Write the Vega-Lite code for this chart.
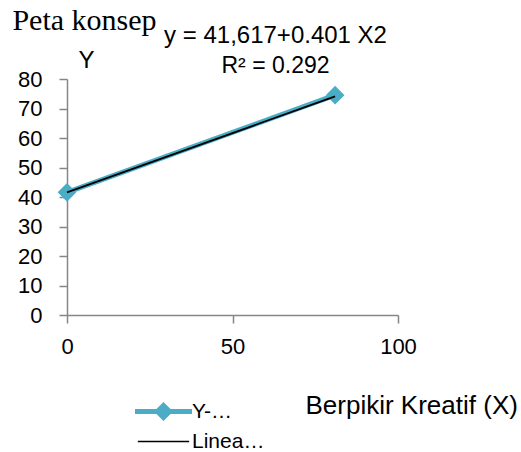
{
  "$schema": "https://vega.github.io/schema/vega-lite/v6.json",
  "width": 331,
  "height": 236,
  "autosize": {"type": "none"},
  "padding": {"left": 67, "top": 79, "right": 123, "bottom": 137},
  "background": "white",
  "datasets": {
    "points": [
      {"x": 0, "y": 41.6, "series": "Y-…"},
      {"x": 81, "y": 74.5, "series": "Y-…"},
      {"x": 0, "y": 41.6, "series": "Linea…"},
      {"x": 81, "y": 74.1, "series": "Linea…"}
    ],
    "notes": [
      {"id": "title", "note": "Peta konsep"},
      {"id": "eq", "note": "y = 41,617+0.401 X2"},
      {"id": "r2", "note": "R² = 0.292"}
    ]
  },
  "data": {"name": "points"},
  "layer": [
    {
      "transform": [{"filter": "datum.series === 'Y-…'"}],
      "mark": {"type": "line", "strokeWidth": 5},
      "encoding": {
        "x": {"field": "x", "type": "quantitative", "scale": {"domain": [0, 100], "nice": false}},
        "y": {"field": "y", "type": "quantitative", "scale": {"domain": [0, 80], "nice": false}},
        "color": {
          "field": "series",
          "type": "nominal",
          "scale": {"domain": ["Y-…", "Linea…"], "range": ["#4BACC6", "#000000"]},
          "legend": {
            "orient": "none",
            "legendX": 86,
            "legendY": 322,
            "title": null,
            "padding": 0,
            "labelFont": "Liberation Sans",
            "labelFontSize": 21,
            "labelColor": "black",
            "symbolSize": 203,
            "labelOffset": 18,
            "rowPadding": 2,
            "encode": {
              "symbols": {
                "update": {
                  "shape": {"signal": "datum.value === 'Y-…' ? 'M-4,0L4,0M-0.85,0L0,-0.85L0.85,0L0,0.85Z' : 'M-3.6,0L3.6,0'"},
                  "strokeWidth": {"signal": "datum.value === 'Y-…' ? 5 : 1.5"},
                  "fill": {"signal": "datum.value === 'Y-…' ? '#4BACC6' : 'transparent'"},
                  "stroke": {"signal": "datum.value === 'Y-…' ? '#4BACC6' : '#000000'"},
                  "opacity": {"value": 1}
                }
              }
            }
          }
        }
      }
    },
    {
      "transform": [{"filter": "datum.series === 'Y-…'"}],
      "mark": {"type": "point", "shape": "diamond", "filled": true, "size": 350, "color": "#4BACC6", "opacity": 1},
      "encoding": {
        "x": {"field": "x", "type": "quantitative"},
        "y": {"field": "y", "type": "quantitative"}
      }
    },
    {
      "transform": [{"filter": "datum.series === 'Linea…'"}],
      "mark": {"type": "line", "strokeWidth": 1.8},
      "encoding": {
        "x": {"field": "x", "type": "quantitative"},
        "y": {"field": "y", "type": "quantitative"},
        "color": {"field": "series", "type": "nominal"}
      }
    },
    {
      "data": {"name": "notes"},
      "transform": [{"filter": "datum.id === 'title'"}],
      "mark": {
        "type": "text",
        "font": "Liberation Serif",
        "fontSize": 30,
        "align": "left",
        "baseline": "alphabetic",
        "color": "black"
      },
      "encoding": {
        "x": {"datum": -16.5, "type": "quantitative"},
        "y": {"datum": 96.6, "type": "quantitative"},
        "text": {"field": "note", "type": "nominal"}
      }
    },
    {
      "data": {"name": "notes"},
      "transform": [{"filter": "datum.id === 'eq'"}],
      "mark": {
        "type": "text",
        "font": "Liberation Sans",
        "fontSize": 24,
        "align": "center",
        "baseline": "alphabetic",
        "color": "black"
      },
      "encoding": {
        "x": {"datum": 63, "type": "quantitative"},
        "y": {"datum": 92.2, "type": "quantitative"},
        "text": {"field": "note", "type": "nominal"}
      }
    },
    {
      "data": {"name": "notes"},
      "transform": [{"filter": "datum.id === 'r2'"}],
      "mark": {
        "type": "text",
        "font": "Liberation Sans",
        "fontSize": 23,
        "align": "center",
        "baseline": "alphabetic",
        "color": "black"
      },
      "encoding": {
        "x": {
          "datum": 63,
          "type": "quantitative",
          "axis": {
            "values": [0, 50, 100],
            "labelPadding": 13,
            "title": "Berpikir Kreatif (X)",
            "titleX": 238,
            "titleY": 98,
            "titleAlign": "left",
            "titleBaseline": "alphabetic"
          }
        },
        "y": {
          "datum": 82.1,
          "type": "quantitative",
          "axis": {
            "values": [0, 10, 20, 30, 40, 50, 60, 70, 80],
            "labelPadding": 17,
            "labelOverlap": false,
            "title": "Y",
            "titleAngle": 0,
            "titleX": 19,
            "titleY": -12,
            "titleAlign": "center",
            "titleBaseline": "alphabetic"
          }
        },
        "text": {"field": "note", "type": "nominal"}
      }
    }
  ],
  "resolve": {"axis": {"x": "shared", "y": "shared"}},
  "config": {
    "view": {"stroke": null},
    "axis": {
      "grid": false,
      "domainColor": "#868686",
      "tickColor": "#868686",
      "domainWidth": 1.5,
      "tickWidth": 1.5,
      "tickSize": 8,
      "labelFont": "Liberation Sans",
      "labelFontSize": 22,
      "labelColor": "black",
      "labelFlush": false,
      "labelOverlap": false,
      "titleFont": "Liberation Sans",
      "titleFontWeight": "normal",
      "titleColor": "black"
    },
    "axisX": {"titleFontSize": 26, "tickCount": 3, "labelPadding": 13},
    "axisY": {"titleFontSize": 24, "tickCount": 10, "labelPadding": 17}
  }
}
